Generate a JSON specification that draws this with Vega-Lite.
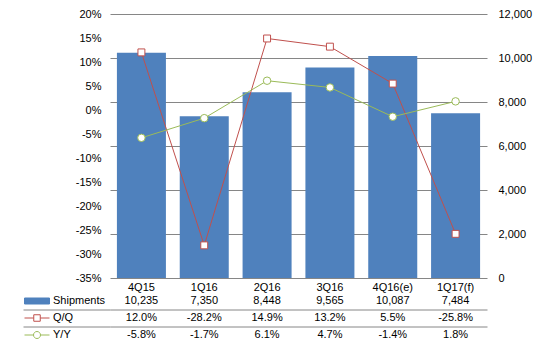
{
  "$schema": "https://vega.github.io/schema/vega-lite/v6.json",
  "padding": {"left": 22, "top": 8, "right": 5, "bottom": 2},
  "background": "white",
  "config": {
    "font": "Liberation Sans",
    "view": {"stroke": null},
    "axis": {"labelFont": "Liberation Sans", "labelFontSize": 11, "labelColor": "#000000", "labelOverlap": false},
    "text": {"font": "Liberation Sans"},
    "locale": {"number": {"decimal": ".", "thousands": ",", "grouping": [3], "currency": ["$", ""], "minus": "-"}}
  },
  "datasets": {
    "q": [
      {"quarter": "4Q15", "Shipments": 10235, "Q/Q": 0.12, "Y/Y": -0.058},
      {"quarter": "1Q16", "Shipments": 7350, "Q/Q": -0.282, "Y/Y": -0.017},
      {"quarter": "2Q16", "Shipments": 8448, "Q/Q": 0.149, "Y/Y": 0.061},
      {"quarter": "3Q16", "Shipments": 9565, "Q/Q": 0.132, "Y/Y": 0.047},
      {"quarter": "4Q16(e)", "Shipments": 10087, "Q/Q": 0.055, "Y/Y": -0.014},
      {"quarter": "1Q17(f)", "Shipments": 7484, "Q/Q": -0.258, "Y/Y": 0.018}
    ]
  },
  "bounds": "flush",
  "spacing": 14.5,
  "resolve": {"scale": {"fill": "independent", "stroke": "independent", "shape": "independent"}},
  "vconcat": [
    {
      "width": 377,
      "height": 264,
      "data": {"name": "q"},
      "layer": [
        {
          "mark": {"type": "bar", "color": "#4F81BD"},
          "encoding": {
            "x": {"field": "quarter", "type": "nominal", "sort": null,
              "scale": {"paddingInner": 0.22, "paddingOuter": 0.11},
              "axis": {"title": null, "ticks": false, "tickSize": 0, "domain": false, "labelAngle": 0, "labelPadding": 3}},
            "y": {"field": "Shipments", "type": "quantitative",
              "scale": {"domain": [0, 12000], "nice": false},
              "axis": {"orient": "right", "values": [0, 2000, 4000, 6000, 8000, 10000, 12000], "tickCount": 7, "format": ",d", "title": null,
                "ticks": false, "tickSize": 0, "domain": false, "labelPadding": 11, "grid": true, "gridColor": "#868686", "gridWidth": 1}}
          }
        },
        {
          "layer": [
            {
              "mark": {"type": "line", "color": "#C0504D", "strokeWidth": 1,
                "point": {"shape": "square", "size": 48, "filled": true, "fill": "white", "stroke": "#C0504D", "strokeWidth": 1}},
              "encoding": {
                "x": {"field": "quarter", "type": "nominal", "sort": null},
                "y": {"field": "Q/Q", "type": "quantitative",
                  "scale": {"domain": [-0.35, 0.2], "nice": false, "zero": false},
                  "axis": {"orient": "left", "values": [-0.35, -0.3, -0.25, -0.2, -0.15, -0.1, -0.05, 0, 0.05, 0.1, 0.15, 0.2], "tickCount": 12,
                    "format": ".0%", "title": null, "ticks": false, "tickSize": 0, "domain": false, "grid": false,
                    "labelPadding": 9, "labelOverlap": false, "labelBound": false, "labelFlush": false}}
              }
            },
            {
              "mark": {"type": "line", "color": "#9BBB59", "strokeWidth": 1,
                "point": {"shape": "circle", "size": 56, "filled": true, "fill": "white", "stroke": "#9BBB59", "strokeWidth": 1}},
              "encoding": {
                "x": {"field": "quarter", "type": "nominal", "sort": null},
                "y": {"field": "Y/Y", "type": "quantitative"}
              }
            }
          ]
        }
      ],
      "resolve": {"scale": {"y": "independent"}}
    },
    {
      "width": 377,
      "height": 51,
      "data": {"name": "q"},
      "encoding": {
        "x": {"field": "quarter", "type": "nominal", "sort": null, "axis": null,
          "scale": {"paddingInner": 0.22, "paddingOuter": 0.11}}
      },
      "layer": [
        {
          "mark": {"type": "text", "fontSize": 11, "color": "#000000"},
          "encoding": {
            "y": {"datum": "Shipments", "type": "nominal",
              "scale": {"domain": ["Shipments", "Q/Q", "Y/Y"], "paddingInner": 0, "paddingOuter": 0},
              "axis": {"orient": "left", "values": ["Q/Q", "Y/Y"], "tickOffset": -8.5, "labels": false, "domain": false,
                "ticks": true, "tickSize": 87, "tickColor": "#868686", "tickWidth": 1,
                "grid": true, "gridColor": "#868686", "gridWidth": 1, "title": null}},
            "text": {"field": "Shipments", "type": "quantitative", "format": ",d"}
          }
        },
        {
          "mark": {"type": "text", "fontSize": 11, "color": "#000000"},
          "encoding": {
            "y": {"datum": "Q/Q", "type": "nominal"},
            "text": {"field": "Q/Q", "type": "quantitative", "format": ".1%"}
          }
        },
        {
          "mark": {"type": "text", "fontSize": 11, "color": "#000000"},
          "encoding": {
            "y": {"datum": "Y/Y", "type": "nominal"},
            "text": {"field": "Y/Y", "type": "quantitative", "format": ".1%"}
          }
        },
        {
          "transform": [{"fold": ["Shipments", "Q/Q", "Y/Y"], "as": ["metric", "value"]}],
          "mark": {"type": "point", "opacity": 0, "filled": true, "size": 100},
          "encoding": {
            "y": {"field": "metric", "type": "nominal"},
            "shape": {"field": "metric", "type": "nominal",
              "scale": {"domain": ["Shipments", "Q/Q", "Y/Y"],
                "range": ["M-2.5,-0.6H2.5V0.6H-2.5Z",
                  "M-2.5,0H-0.65M0.65,0H2.5M-0.65,-0.65H0.65V0.65H-0.65Z",
                  "M-2.5,0H-0.7M0.7,0H2.5M-0.7,0A0.7,0.7,0,1,1,0.7,0A0.7,0.7,0,1,1,-0.7,0Z"]},
              "legend": {"title": null, "orient": "left", "offset": -83, "padding": 0, "clipHeight": 17, "rowPadding": 0,
                "symbolSize": 100, "symbolStrokeWidth": 1, "symbolOpacity": 1, "symbolOffset": 7.5, "labelOffset": 10.5,
                "labelFontSize": 11, "labelColor": "#000000", "labelFont": "Liberation Sans"}},
            "fill": {"field": "metric", "type": "nominal",
              "scale": {"domain": ["Shipments", "Q/Q", "Y/Y"], "range": ["#4F81BD", "#FFFFFF", "#FFFFFF"]},
              "legend": {"title": null, "orient": "left", "offset": -83, "padding": 0, "clipHeight": 17, "rowPadding": 0,
                "symbolSize": 100, "symbolStrokeWidth": 1, "symbolOpacity": 1, "symbolOffset": 7.5, "labelOffset": 10.5,
                "labelFontSize": 11, "labelColor": "#000000", "labelFont": "Liberation Sans"}},
            "stroke": {"field": "metric", "type": "nominal",
              "scale": {"domain": ["Shipments", "Q/Q", "Y/Y"], "range": ["#4F81BD", "#C0504D", "#9BBB59"]},
              "legend": {"title": null, "orient": "left", "offset": -83, "padding": 0, "clipHeight": 17, "rowPadding": 0,
                "symbolSize": 100, "symbolStrokeWidth": 1, "symbolOpacity": 1, "symbolOffset": 7.5, "labelOffset": 10.5,
                "labelFontSize": 11, "labelColor": "#000000", "labelFont": "Liberation Sans"}}
          }
        }
      ]
    }
  ]
}
